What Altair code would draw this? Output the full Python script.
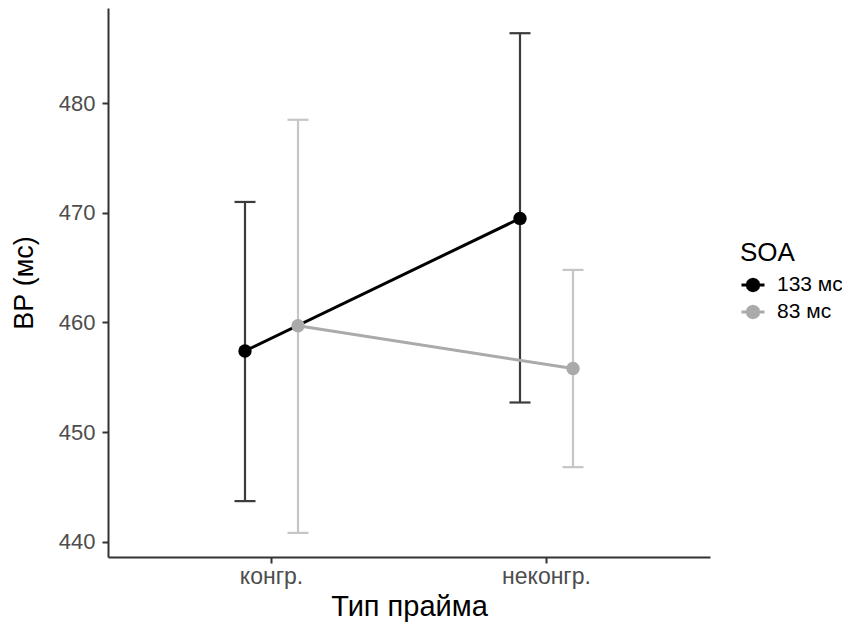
import altair as alt
import pandas as pd

prime_types = ["конгр.", "конгр.", "неконгр.", "неконгр."]
soa_levels = ["133 мс", "83 мс", "133 мс", "83 мс"]
rt_mean = [457.4, 459.7, 469.5, 455.8]
rt_low = [443.7, 440.8, 452.7, 446.8]
rt_high = [471.0, 478.5, 486.4, 464.8]

df = pd.DataFrame({
    "prime": prime_types,
    "soa": soa_levels,
    "soa_err": soa_levels,
    "rt": rt_mean,
    "lo": rt_low,
    "hi": rt_high,
})

FONT = "Liberation Sans"
soa_domain = ["133 мс", "83 мс"]
color_scale = alt.Scale(domain=soa_domain, range=["#000000", "#aaaaaa"])
# no explicit domain here, so its (disabled) legend is not merged with the colour legend
err_scale = alt.Scale(range=["#3c3c3c", "#c6c6c6"])

# legend key: short line with a dot on it
KEY_PATH = (
    "M-1,0L-0.5,0M0.5,0L1,0"
    "M0.5,0L0.433,0.25L0.25,0.433L0,0.5L-0.25,0.433L-0.433,0.25L-0.5,0"
    "L-0.433,-0.25L-0.25,-0.433L0,-0.5L0.25,-0.433L0.433,-0.25Z"
)

x_enc = alt.X(
    "prime:N",
    title="Тип прайма",
    scale=alt.Scale(paddingInner=0.6145, paddingOuter=0.4018),
    axis=alt.Axis(labelAngle=0, labelFontSize=23, titleFontSize=29, titlePadding=4),
)
xoff = alt.XOffset("soa:N", scale=alt.Scale(paddingInner=0, paddingOuter=0))
y_scale = alt.Scale(domain=[438.6, 488.7], nice=False, zero=False)

legend = alt.Legend(
    orient="none", legendX=632, legendY=232,
    symbolType=KEY_PATH,
    symbolSize=529, symbolStrokeWidth=3, symbolOpacity=1,
    labelOffset=11,
)

base = alt.Chart(df)

rules = base.mark_rule(strokeWidth=2.2).encode(
    x=x_enc,
    xOffset=xoff,
    y=alt.Y("lo:Q", scale=y_scale, title="ВР (мс)",
            axis=alt.Axis(values=[440, 450, 460, 470, 480], labelFontSize=22,
                          titleFontSize=27, titlePadding=20, labelPadding=7)),
    y2="hi:Q",
    stroke=alt.Stroke("soa_err:N", scale=err_scale, legend=None),
)
cap_lo = base.mark_point(shape="stroke", size=441, strokeWidth=2.2, opacity=1, filled=False).encode(
    x=x_enc, xOffset=xoff, y=alt.Y("lo:Q", scale=y_scale),
    stroke=alt.Stroke("soa_err:N", scale=err_scale, legend=None),
)
cap_hi = base.mark_point(shape="stroke", size=441, strokeWidth=2.2, opacity=1, filled=False).encode(
    x=x_enc, xOffset=xoff, y=alt.Y("hi:Q", scale=y_scale),
    stroke=alt.Stroke("soa_err:N", scale=err_scale, legend=None),
)
lines = base.mark_line(strokeWidth=3).encode(
    x=x_enc, xOffset=xoff, y=alt.Y("rt:Q", scale=y_scale),
    color=alt.Color("soa:N", scale=color_scale, title="SOA", legend=legend),
    detail="soa:N",
)
points = base.mark_point(filled=True, size=180, opacity=1).encode(
    x=x_enc, xOffset=xoff, y=alt.Y("rt:Q", scale=y_scale),
    color=alt.Color("soa:N", scale=color_scale, title="SOA", legend=legend),
)

chart = alt.layer(rules, cap_lo, cap_hi, lines, points).properties(
    width=602, height=549,
    autosize=alt.AutoSizeParams(type="none"),
    padding={"left": 100, "top": 0, "right": 132, "bottom": 66},
).configure_view(stroke=None).configure_axis(
    grid=False,
    domainColor="#333333", domainWidth=2,
    tickColor="#333333", tickWidth=2, tickSize=6,
    labelFont=FONT, labelColor="#4d4d4d",
    titleFont=FONT, titleColor="#000000", titleFontWeight="normal",
).configure_legend(
    titleFont=FONT, titleFontSize=26, titleFontWeight="normal", titleColor="#000000",
    labelFont=FONT, labelFontSize=21, labelColor="#000000",
    rowPadding=2, titlePadding=6,
)

chart.save("out.html", embed_options={"renderer": "svg", "actions": False})
